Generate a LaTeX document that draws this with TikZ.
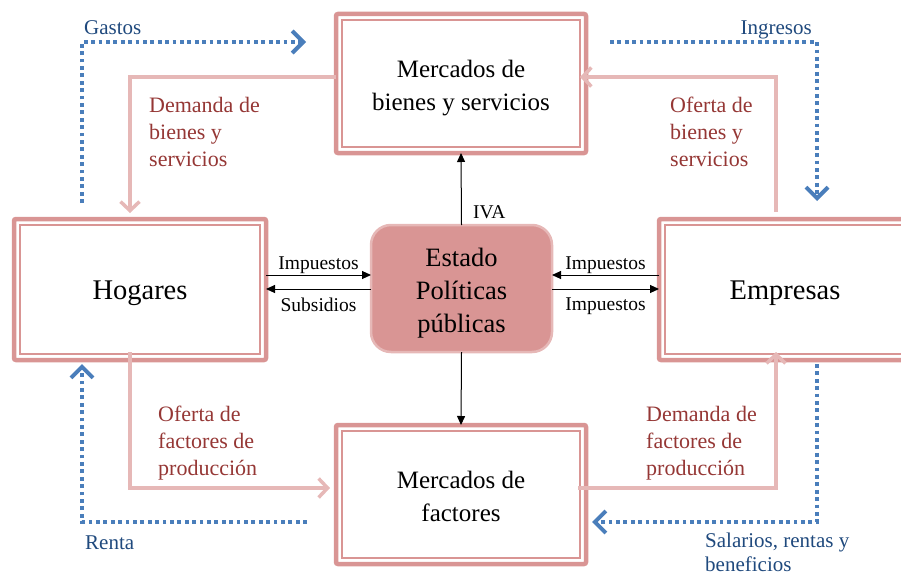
\documentclass[tikz,border=0pt]{standalone}
\usepackage{fontspec}
\setmainfont{Liberation Serif}
\usetikzlibrary{arrows.meta}
\definecolor{boxc}{HTML}{D99594}
\definecolor{pinkl}{HTML}{E6B8B7}
\definecolor{bluel}{HTML}{4A7EBB}
\definecolor{bluet}{HTML}{1F497D}
\definecolor{redt}{HTML}{953735}
\begin{document}
\begin{tikzpicture}[x=1pt,y=-1pt,
  mbox/.style={draw=boxc, line width=4.5pt, rounded corners=2pt, minimum width=250pt, minimum height=139pt, inner sep=0pt, outer sep=0pt},
  innerline/.style={draw=boxc, line width=1.3pt},
  boxtext/.style={align=center, inner sep=0pt, font=\fontsize{25}{33}\selectfont},
  estado/.style={draw=pinkl, fill=boxc, line width=2.5pt, rounded corners=20pt, minimum width=181pt, minimum height=127pt, inner sep=0pt, outer sep=0pt},
  pinkarrow/.style={draw=pinkl, line width=3.5pt, -{Straight Barb[length=9pt,width=19pt,line width=3.5pt]}},
  bluearrow/.style={draw=bluel, line width=3.8pt, dash pattern=on 3.8pt off 3.6pt, -{Straight Barb[length=11pt,width=22pt,line width=4pt,line join=miter]}},
  blk/.style={draw=black, line width=1pt, -{Triangle[length=9pt,width=8pt]}},
  lbl/.style={font=\fontsize{19.5}{22}\selectfont, text=black},
  redlbl/.style={font=\fontsize{22}{27}\selectfont, text=redt, align=left, inner sep=0pt},
  bluelbl/.style={font=\fontsize{21}{24}\selectfont, text=bluet, align=left, inner sep=0pt}
]
\useasboundingbox (0,0) rectangle (901,578);

% boxes
\node[mbox] (mb) at (461,83.5) {};
\node[mbox, minimum width=252pt, minimum height=141pt] (hog) at (140,289.5) {};
\node[mbox, minimum width=252pt, minimum height=141pt] (emp) at (785,289.5) {};
\node[mbox] (mf) at (461,494.5) {};
\foreach \n in {mb,hog,emp,mf}
  \draw[innerline] ([shift={(6,6)}]\n.north west) rectangle ([shift={(-6,-6)}]\n.south east);
\node[estado] (est) at (461.5,288.5) {};

\node[boxtext] (mbt) at ([yshift=-4.5pt]mb.center) {Mercados de\\bienes y servicios};
\node[boxtext, font=\fontsize{28.5}{33}\selectfont] (hogt) at ([yshift=-4pt]hog.center) {Hogares};
\node[boxtext, font=\fontsize{28.5}{33}\selectfont] (empt) at ([yshift=-4pt]emp.center) {Empresas};
\node[boxtext] (mft) at ([yshift=-2pt]mf.center) {Mercados de\\factores};
\node[boxtext, font=\fontsize{26.5}{33}\selectfont] (estt) at ([yshift=-4.5pt]est.center) {Estado\\Políticas\\públicas};

% pink flows
\draw[pinkarrow, shorten >=6pt] ([yshift=6.5pt]mb.west) -| ([xshift=-10pt]hog.north);
\draw[pinkarrow, shorten <=7pt] ([xshift=-9pt]emp.north) |- ([yshift=6.5pt,xshift=-6pt]mb.east);
\draw[pinkarrow, shorten >=6pt] ([xshift=-10pt,yshift=8pt]hog.south) |- ([yshift=6.5pt]mf.west);
\draw[pinkarrow] ([xshift=-8pt,yshift=6.5pt]mf.east) -| ([xshift=-9pt,yshift=8pt]emp.south);

% blue flows
\coordinate (g1) at (82,203);
\coordinate (g2) at (306,42);
\coordinate (i1) at (610,42);
\coordinate (i2) at (817,201);
\coordinate (r1) at (307,522);
\coordinate (r2) at (82,364);
\coordinate (s1) at (817,364);
\coordinate (s2) at (592,522);
\draw[bluearrow] (g1) |- (g2);
\draw[bluearrow] (i1) -| (i2);
\draw[bluearrow] (r1) -| (r2);
\draw[bluearrow] (s1) |- (s2);

% black arrows
\draw[blk] (hog.east |- 0,275) -- (est.west |- 0,275) node[midway, above, inner sep=0.5pt, lbl] {Impuestos};
\draw[blk] (est.west |- 0,289) -- (hog.east |- 0,289) node[midway, below, inner sep=0pt, yshift=-8.5pt, lbl] {Subsidios};
\draw[blk] (emp.west |- 0,275) -- (est.east |- 0,275) node[midway, above, inner sep=0.5pt, lbl] {Impuestos};
\draw[blk] (est.east |- 0,289) -- (emp.west |- 0,289) node[midway, below, inner sep=0pt, yshift=-8.5pt, lbl] {Impuestos};
\draw[blk] (est.north) -- (mb.south);
\draw[blk] (est.south) -- (mf.north);
\node[lbl, anchor=base west, inner sep=0pt] (iva) at (473,218) {IVA};

% red labels
\node[redlbl, anchor=north west] (l1) at (149,97) {Demanda de\\bienes y\\servicios};
\node[redlbl, anchor=north west] (l2) at (670,97) {Oferta de\\bienes y\\servicios};
\node[redlbl, anchor=north west] (l3) at (158,406) {Oferta de\\factores de\\producción};
\node[redlbl, anchor=north west] (l4) at (646,406) {Demanda de\\factores de\\producción};

% blue labels
\node[bluelbl, anchor=base west] (b1) at (84,35) {Gastos};
\node[bluelbl, anchor=base east] (b2) at (812,35) {Ingresos};
\node[bluelbl, anchor=base west] (b3) at (85,549) {Renta};
\node[bluelbl, anchor=north west] (b4) at (705,533) {Salarios, rentas y\\beneficios};
\end{tikzpicture}
\end{document}
